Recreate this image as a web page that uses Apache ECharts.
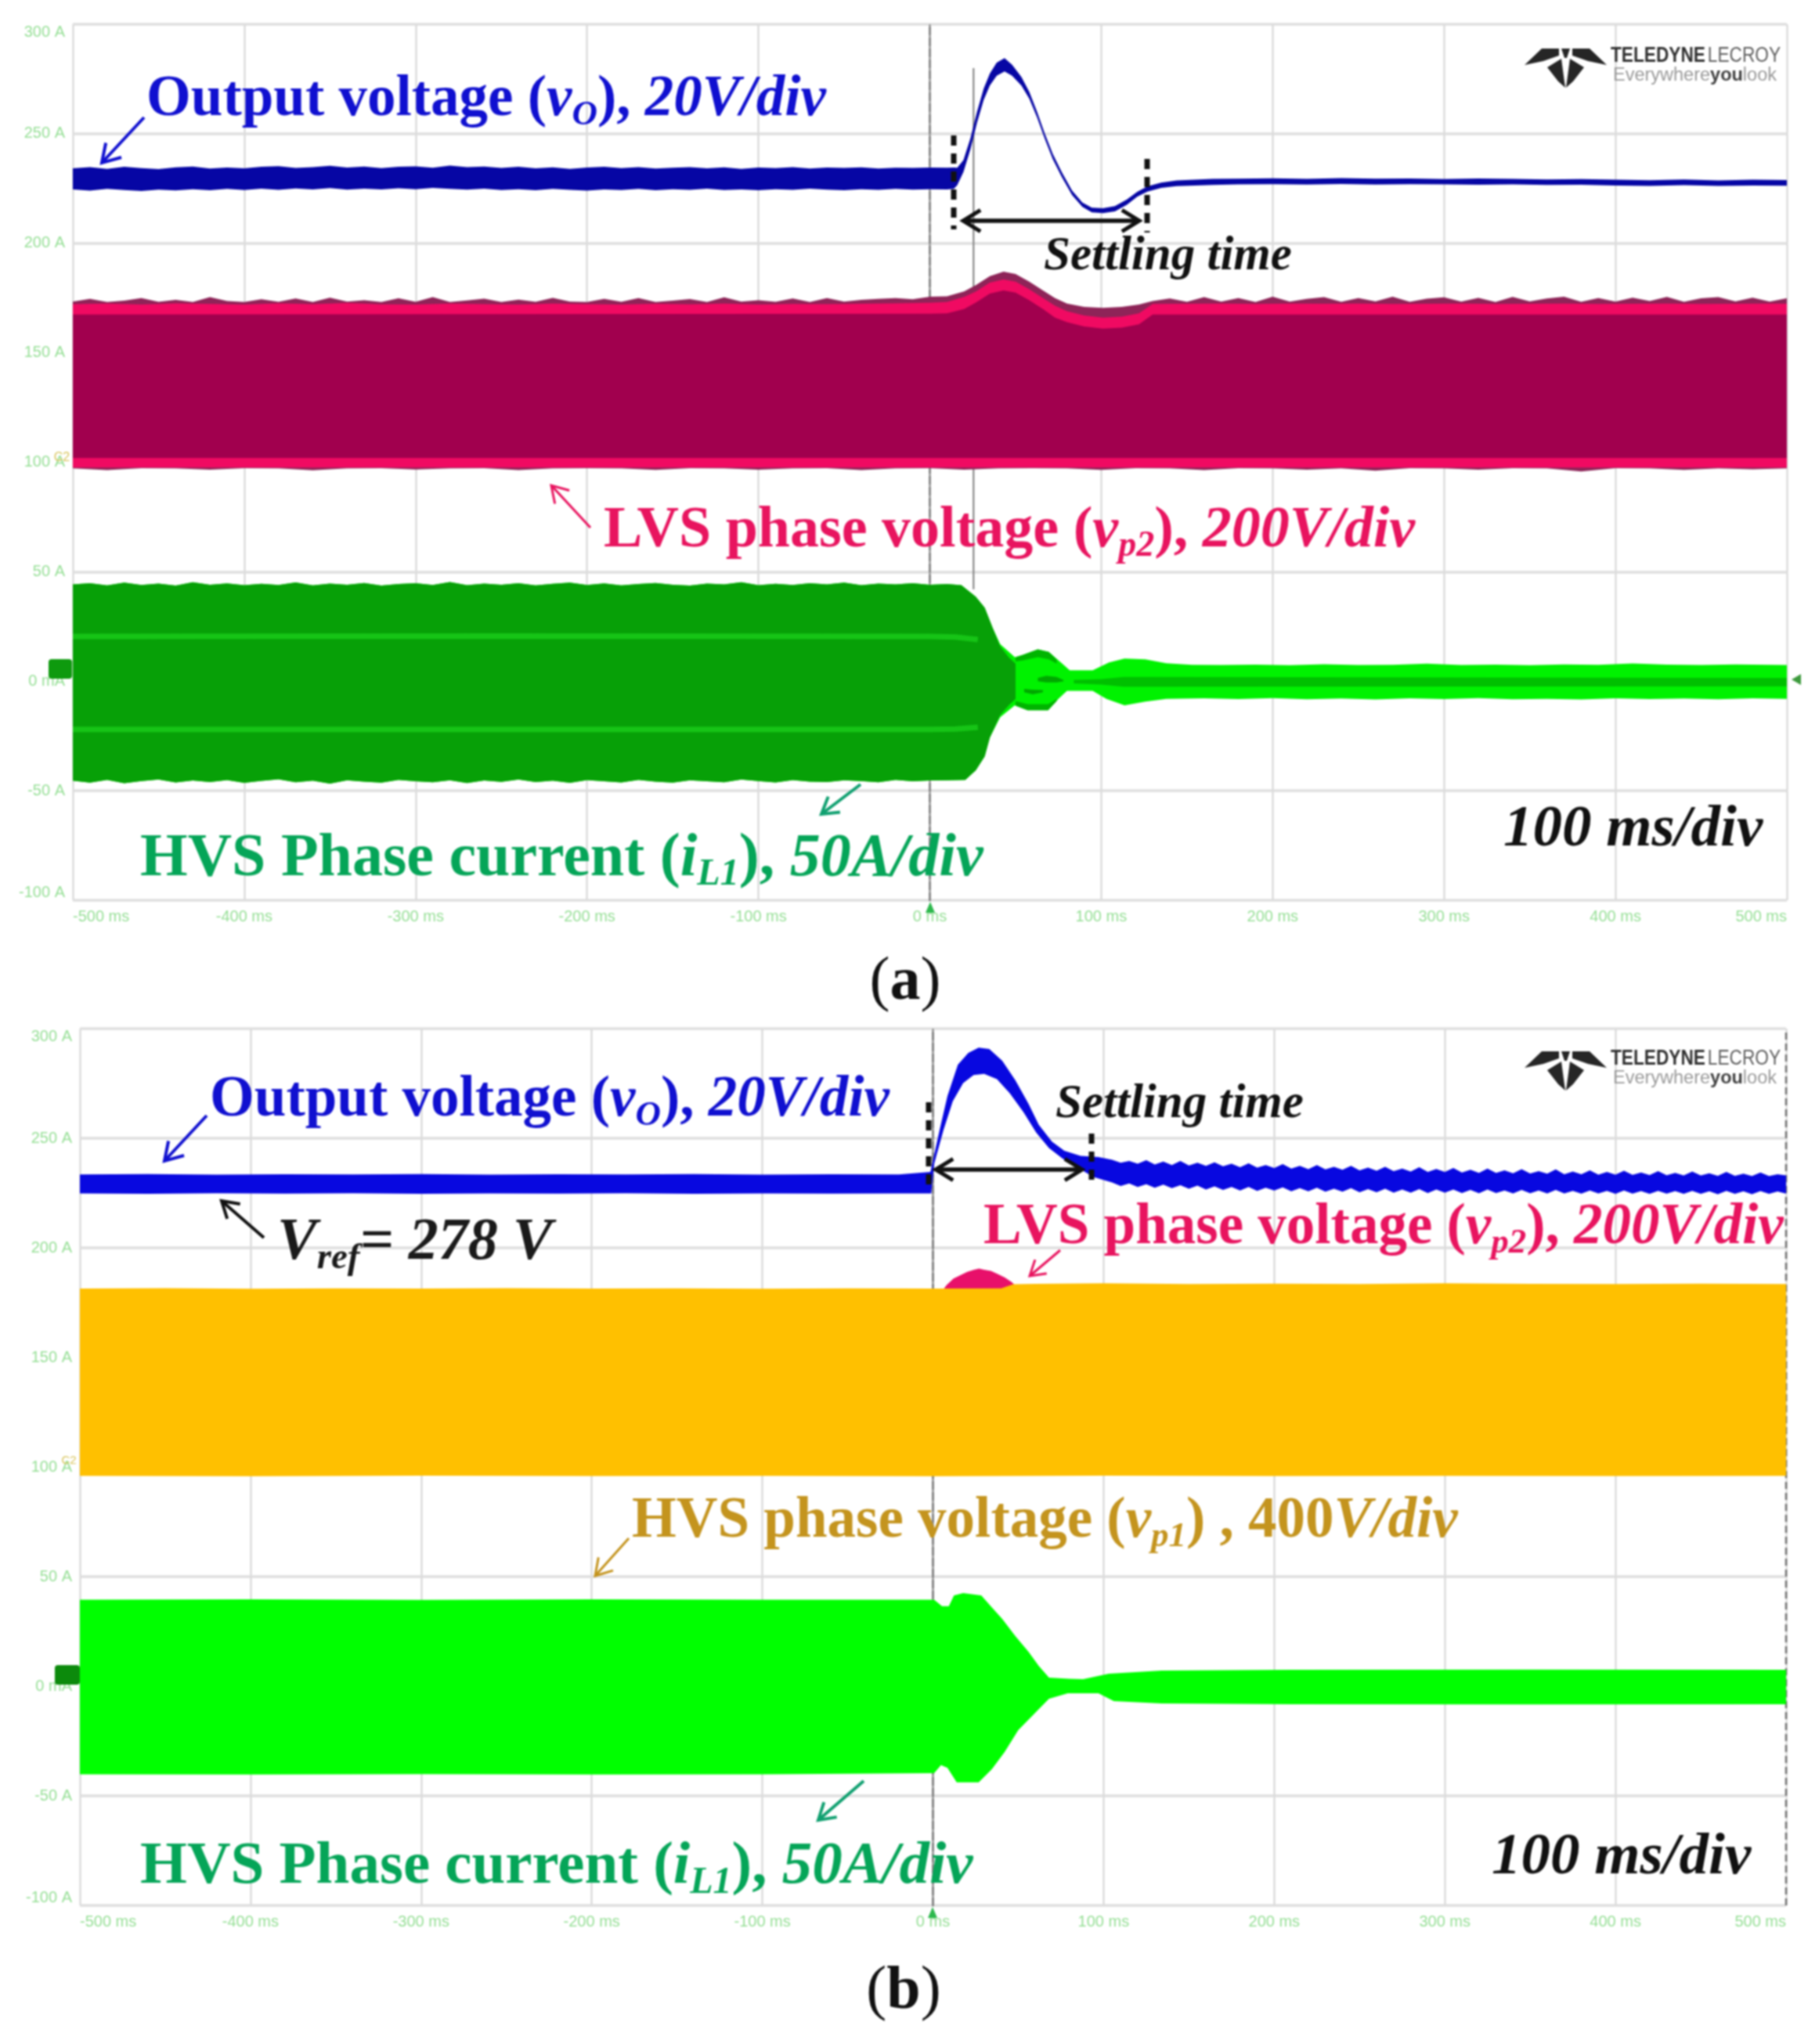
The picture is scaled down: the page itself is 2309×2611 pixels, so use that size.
<!DOCTYPE html>
<html><head><meta charset="utf-8">
<style>html,body{margin:0;padding:0;background:#fff}#c{width:2309px;height:2611px;filter:blur(1.1px)}</style>
<script src="https://cdn.jsdelivr.net/npm/echarts@6/dist/echarts.min.js"></script>
</head><body><div id="c"></div>
<script>
// ---------- axes ----------
const xTickValues = [-500,-400,-300,-200,-100,0,100,200,300,400,500];
const xTickLabels = ['-500 ms','-400 ms','-300 ms','-200 ms','-100 ms','0 ms','100 ms','200 ms','300 ms','400 ms','500 ms'];
const yTickValues = [-100,-50,0,50,100,150,200,250,300];
const yTickLabels = ['-100 A','-50 A','0 mA','50 A','100 A','150 A','200 A','250 A','300 A'];

// ---------- shared time base of the steady part ----------
const tSteady = [-500,-490,-480,-470,-460,-450,-440,-430,-420,-410,-400,-390,-380,-370,-360,-350,-340,-330,-320,-310,-300,-290,-280,-270,-260,-250,-240,-230,-220,-210,-200,-190,-180,-170,-160,-150,-140,-130,-120,-110,-100,-90,-80,-70,-60,-50,-40,-30,-20,-10,0,10];

// ---------- panel (a): output voltage ----------
const tVoA = tSteady.concat([14,16,19.6,23.7,27.5,31.4,35,39,43.6,48,53.4,58,62.6,67,71.7,77,83,89,94.5,101,108,115,121,127,135,144,165,
  180,200,220,240,260,280,300,320,340,360,380,400,420,440,460,480,500]);
const voAHi = [234.2,234.8,234.0,234.9,234.3,233.9,234.7,235.0,234.1,234.6,234.2,234.9,235.2,234.4,234.8,235.4,234.6,235.0,234.3,234.9,235.1,234.5,235.5,234.8,235.0,234.4,234.9,234.2,234.7,234.0,234.6,234.9,234.3,234.8,234.1,234.5,234.8,234.2,234.7,234.0,234.6,234.3,234.8,234.1,234.6,234.4,234.7,234.1,234.5,234.4,234.6,234.5,
  234.6,234.5,238,248,260,270.6,277.5,282.5,284.5,281.5,276,269.2,260,250.2,240.8,232.4,224,218.6,216.3,216,217,220,223.5,226,227.7,228.7,229.4,
  229.5,229.7,229.4,229.8,229.5,229.6,229.3,229.6,229.4,229.1,229.3,229.0,228.8,229.1,228.7,229.0,228.9];
const voALo = [224.6,224.0,224.8,224.3,223.9,224.5,224.1,224.7,224.2,224.8,224.3,224.9,224.4,225.0,224.6,225.2,224.5,224.9,224.6,225.1,224.7,225.3,224.8,224.5,224.9,224.3,224.7,224.2,224.8,224.4,224.0,224.6,224.3,224.8,224.2,224.7,224.4,224.9,224.3,224.6,224.2,224.7,224.4,224.9,224.5,224.2,224.7,224.4,224.8,224.5,224.7,224.6,
  224.8,226.5,232.5,243,255,265.4,272,276.5,278.5,276.5,272,266,257.4,247.8,238.4,230.2,222,216.6,214.1,213.8,214.6,217.6,221.3,223.6,225.3,226.1,226.6,
  226.9,227.0,226.8,227.1,226.8,227.0,226.9,226.7,226.9,226.6,226.7,226.4,226.2,226.5,226.2,226.4,226.3];
const cursorT = [25.5,25.5];
const cursorV = [280,42];

// ---------- panel (a): LVS phase voltage ----------
const tVp2A = [-500,-480,-460,-440,-420,-400,-380,-360,-340,-320,-300,-280,-260,-240,-220,-200,-180,-160,-140,-120,-100,-80,-60,
  -40,-20,0,10,20,27,35,43,50,58,66,73,80,90,101,112,122,130,
  150,170,190,210,230,250,270,290,310,330,350,370,390,410,430,450,470,490,500];
const tVp2AOuterHi = tSteady.concat([20,27,35,43,50,58,66,73,80,90,101,112,122,130,
  140,150,160,170,180,190,200,210,220,230,240,250,260,270,280,290,300,310,320,330,340,350,360,370,380,390,400,410,420,430,440,450,460,470,480,490,500]);
const vp2AOuterHi = [173.4,174.6,173.2,173.8,175.0,173.3,174.2,173.2,175.4,173.6,173.2,174.4,173.3,174.8,173.2,175.2,173.4,174.0,173.2,174.9,173.3,175.4,173.2,173.9,174.7,173.2,174.3,173.3,175.1,173.4,173.2,174.6,173.3,175.0,173.2,173.8,174.5,173.2,175.3,173.4,174.0,173.3,174.8,173.2,175.0,173.4,174.2,174.6,175.0,174.4,175.6,175.8,
  178,181,185,187,186,182.5,178.5,175,172.5,171,170.5,171,172,173.6,
  174.8,173.3,175.4,173.4,175.0,173.2,175.6,173.4,174.6,175.4,173.3,175.0,173.5,175.6,173.3,174.7,175.3,173.4,175.1,173.2,175.5,173.5,174.8,175.6,173.3,175.0,173.4,175.2,173.6,175.5,173.3,174.9,175.4,173.5,175.2,173.4,174.9];
const vp2ABrightHi = [172.2,172.5,172.0,172.6,172.3,172.0,172.6,172.2,172.7,172.1,172.0,172.5,172.2,172.0,172.5,172.2,172.0,172.4,172.1,172.5,172.0,172.3,172.2,
  172.4,172.6,172.8,173.2,175.5,178,182,183.5,182.5,179,175,171.5,169,167,166,166.5,168,172.3,
  172.4,172.5,172.3,172.5,172.4,172.5,172.3,172.4,172.5,172.3,172.4,172.5,172.3,172.4,172.5,172.3,172.4,172.5,172.4];
const tVp2AOuterLo = [-500,-480,-460,-440,-420,-400,-380,-360,-340,-320,-300,-280,-260,-240,-220,-200,-180,-160,-140,-120,-100,-80,-60,-40,-20,0,20,40,60,80,100,120,140,160,180,200,220,240,260,280,300,320,340,360,380,400,420,440,460,480,500];
const vp2AOuterLo = [97.2,96.4,97.3,97.2,96.6,97.3,97.2,96.3,97.2,97.3,96.7,97.2,97.3,96.4,97.2,97.3,97.2,96.5,97.3,97.2,96.6,97.2,97.3,96.4,97.2,97.3,96.6,97.2,97.3,97.2,96.5,97.3,97.2,96.4,97.3,97.2,96.6,97.2,96.2,97.3,97.2,96.6,97.3,97.2,95.8,97.3,97.2,96.5,97.2,96.8,97.2];
const tVp2AInnerHi = [-500,0,10,20,27,35,43,50,58,66,73,80,90,101,112,122,130,500];
const vp2AInnerHi = [167.5,167.8,168,170,173,177,178.5,177.5,174,170,166,164,162,161,161.5,163,167.5,167.5];
const tVp2AEnds = [-500,500];
const vp2ABrightLo = [97.6,97.6];
const vp2AInnerLo = [102,102];

// ---------- panel (a): HVS phase current ----------
const iASteadyHi = [44.2,44.8,43.8,45.0,44.0,44.6,43.7,45.2,44.1,44.7,43.9,44.5,44.0,45.1,43.8,44.6,44.1,44.9,43.7,44.4,44.8,44.0,45.3,43.9,44.6,44.1,44.8,43.8,44.5,45.0,44.0,44.7,43.8,44.4,44.9,44.1,43.7,44.6,44.2,45.2,43.9,44.5,44.0,44.8,44.2,45.0,43.9,44.6,44.2,44.8,44.1,44.4];
const iASteadyLo = [-45.4,-46.3,-45.0,-46.6,-45.6,-44.9,-46.2,-45.3,-46.0,-45.1,-46.4,-45.5,-44.8,-46.1,-45.4,-46.7,-45.2,-45.8,-46.3,-45.0,-45.7,-46.1,-45.2,-46.5,-45.3,-45.9,-44.9,-46.0,-45.4,-46.4,-45.1,-45.7,-46.2,-45.0,-45.8,-46.3,-45.2,-45.7,-46.1,-44.9,-45.6,-46.2,-45.1,-45.8,-46.0,-45.2,-45.6,-46.1,-45.0,-45.7,-45.3,-45.2];
const tIAHi = tSteady.concat([18.4,26.8,32,36.7,41,49.6,54,63,69.4,77,81.6,95,104.5,113.6,125.7,138,153,170,190,210,230,250,270,290,310,330,350,370,390,410,430,450,470,490,500]);
const iAHi = iASteadyHi.concat([43.9,38.6,33.6,24.3,17,11,12,14.6,13.4,8.2,5,5,8.6,10.4,10,8.2,7.5,7.4,7.6,7.3,7.8,7.4,7.5,8.0,7.4,7.6,7.3,7.7,7.5,8.1,7.6,7.4,7.7,7.5,7.4]);
const tIALo = tSteady.concat([20.7,26.8,32,35,41,49.6,57,69,75,80,95,103,113.6,125.7,138,160,180,200,220,240,260,280,300,320,340,360,380,400,420,440,460,480,500]);
const iALo = iASteadyLo.concat([-45,-40.7,-34.3,-25.7,-16.4,-11,-13.2,-13.2,-8,-4.4,-4.4,-8,-11,-9.3,-8,-7.8,-8.1,-7.7,-8.2,-7.9,-8.3,-7.8,-8.1,-7.7,-8.2,-8.0,-8.3,-7.8,-8.1,-7.9,-8.2,-7.8,-8.0]);
const tIADarkHi = tSteady.concat([18.4,26.8,32,36.7,41,46,50]);
const iADarkHi = iASteadyHi.concat([43.9,38.6,33.6,24.3,16,11,8]);
const tIADarkLo = tSteady.concat([20.7,26.8,32,35,41,46,50]);
const iADarkLo = iASteadyLo.concat([-45,-40.7,-34.3,-25.7,-15.5,-11,-8]);
const tIARimTop = [50,54,63,69.4,74];
const iARimTopHi = [11,12,14.6,13.4,10];
const iARimTopLo = [9,9.5,11,10,8];
const tIARimBot = [50,57,69,74];
const iARimBotHi = [-9,-10.5,-10.5,-8];
const iARimBotLo = [-11.2,-13.2,-13.2,-9];
const tIACore = [84,100,113,130,500];
const iACoreHi = [0.6,1,2,2,1.5];
const iACoreLo = [-1,-1.5,-2.5,-2.5,-2.3];
const tIAPatch1 = [63,68,74,78];
const iAPatch1Hi = [1.5,2.5,2,0.5];
const iAPatch1Lo = [0,-0.5,-0.5,0];
const tIAPatch2 = [55,60,66];
const iAPatch2Hi = [-3.5,-3.8,-4];
const iAPatch2Lo = [-5,-6,-5];
const tIAStripe = [-500,-250,0,15,28];
const iAStripeTop = [20.5,20.6,20.5,20.2,19];
const iAStripeBot = [-22,-22,-22,-21.8,-21];

// ---------- panel (b): output voltage ----------
const tVoBJag = [105,110,115,120,125,130,135,140,145,150,155,160,165,170,175,180,185,190,195,200,205,210,215,220,225,230,235,240,245,250,255,260,265,270,275,280,285,290,295,300,305,310,315,320,325,330,335,340,345,350,355,360,365,370,375,380,385,390,395,400,405,410,415,420,425,430,435,440,445,450,455,460,465,470,475,480,485,490,495,500];
const tVoBHi = [-500,-460,-420,-380,-340,-300,-260,-220,-180,-140,-100,-60,-20,
  -1.5,3.9,8.5,14.6,20.7,26.8,33,40.6,48.3,56,62,69.7,77,86.5,97].concat(tVoBJag);
const voBHi = [233.5,233.7,233.4,233.6,233.5,233.7,233.4,233.6,233.5,233.7,233.4,233.6,233.5,
  234.6,253.8,269.3,283.6,288.9,291.3,290.7,285.4,276.4,265.7,256.2,248.5,244.3,242,241.4,
  240.2,238.8,239.6,238.4,240.0,238.0,239.4,237.8,239.6,237.6,238.8,237.4,239.0,237.2,238.4,236.8,238.6,236.6,237.8,236.4,238.2,236.2,237.4,235.9,237.8,235.8,237.0,235.6,237.4,235.4,236.6,235.2,237.0,235.0,236.2,234.8,236.8,234.6,236.0,234.6,236.4,234.4,235.6,234.2,236.2,234.2,235.4,234.0,235.9,233.9,235.0,233.8,235.8,233.6,234.8,233.6,235.4,233.4,234.6,233.4,235.2,233.3,234.4,233.2,235.0,233.1,234.2,233.0,234.8,233.0,234.0,232.9,234.6,232.9,233.8,232.8,234.4,232.8,233.6,233.0];
const tVoBLo = [-500,-460,-420,-380,-340,-300,-260,-220,-180,-140,-100,-60,-20,
  -1,0.7,6.2,11.6,17.7,23.8,30,37.5,45,53,60.5,68,76,85,94].concat(tVoBJag);
const voBLo = [224.8,224.6,224.9,224.7,224.9,224.6,224.8,224.7,224.9,224.6,224.8,224.7,224.8,
  224.8,238.3,253.8,266.9,275.2,278.8,279.4,277,270.5,262,252.6,245.5,240.7,236.5,232.3,
  229.8,228.2,229.4,227.8,229.0,227.4,228.8,227.2,228.6,227.0,228.4,226.6,228.0,226.4,227.8,226.2,227.8,226.0,227.4,226.2,227.6,225.8,227.2,225.8,227.4,225.6,227.0,225.6,227.2,225.4,226.8,225.4,227.0,225.2,226.6,225.2,226.8,225.0,226.6,225.2,226.6,225.0,226.4,224.9,226.6,225.0,226.2,224.8,226.4,224.9,226.2,224.8,226.4,224.8,226.0,224.7,226.2,224.8,226.0,224.6,226.2,224.7,225.9,224.6,226.0,224.7,225.9,224.6,226.0,224.6,225.8,224.5,226.0,224.6,225.8,224.5,225.9,224.6,225.7,224.7];

// ---------- panel (b): LVS phase voltage (mostly hidden behind vp1) ----------
const tVp2BHi = [-500,6,8,12,16,20,24,27,30,34,38,42,46,48,500];
const vp2BHi = [180,181,183,186,187.5,189,190,190.5,190,189.5,188,186.5,184.5,183,182];
const vp2BLo = [100,100];

// ---------- panel (b): HVS phase voltage ----------
const tVp1BHi = [-500,-450,-400,-350,-300,-250,-200,-150,-100,-50,0,40,47,60,100,150,200,250,300,350,400,450,500];
const vp1BHi = [181.4,181.6,181.3,181.5,181.4,181.6,181.4,181.5,181.3,181.5,181.4,181.5,183.4,183.6,183.8,183.5,183.7,183.5,183.8,183.6,183.5,183.7,183.5];
const tVp1BLo = [-500,-400,-300,-200,-100,0,100,200,300,400,500];
const vp1BLo = [96.0,95.8,96.1,95.9,96.0,95.8,96.1,95.9,96.0,95.9,96.0];

// ---------- panel (b): HVS phase current ----------
const tIBHi = [-500,-400,-300,-200,-100,0.7,5.3,9.3,12.3,17.7,28.3,34.5,40.6,48.3,56,62,68,80,88,103,134,210,350,500];
const iBHi = [39.5,39.6,39.4,39.6,39.5,39.5,36.5,36.5,41.4,42.5,41.4,36,30.7,22.9,15.7,9.3,3.9,3.4,3.2,5.7,7.1,7.5,7.6,7.5];
const tIBLo = [-500,-400,-300,-200,-100,0.7,4.7,8.5,13.9,26.8,34.5,42,50,59,68,79,97,106,134,210,350,500];
const iBLo = [-40.2,-40.3,-40.1,-40.3,-40.2,-39.6,-36,-37.2,-43.8,-43.8,-37.9,-30,-20,-12.9,-5.7,-3.2,-3.2,-6.8,-7.9,-8.2,-8.3,-8.2];

const zeroT = [0,0];
const zeroV = [-100,300];
const edgeT = [500,500];

// ---------- helpers ----------
const pairs = (t,v) => t.map((x,i)=>[x,v[i]]);
function band(name,p,tHi,hi,tLo,lo,color,z){
  const pts = pairs(tHi,hi).concat(pairs(tLo,lo).reverse());
  return {type:'custom',name,xAxisIndex:p,yAxisIndex:p,silent:true,z,data:pts,clip:true,encode:{x:0,y:1},
    renderItem(params,api){
      if(params.dataIndex!==0) return null;
      return {type:'polygon',shape:{points:pts.map(d=>api.coord(d))},style:{fill:color,stroke:null}};
    }};
}
function trace(name,p,t,v,color,width,z,type){
  return {type:'line',name,xAxisIndex:p,yAxisIndex:p,data:pairs(t,v),symbol:'none',silent:true,z,
    lineStyle:{color,width,type:type||'solid'}};
}
const lookup = (vals,labs) => v => { const i = vals.indexOf(v); return i<0?'':labs[i]; };
const AX = '#96DF96', SANS='"Liberation Sans",sans-serif', SERIF='"Liberation Serif",serif';
function xAxisOf(gi){return {type:'value',gridIndex:gi,min:-500,max:500,interval:100,
  axisLine:{show:false},axisTick:{show:false},
  splitLine:{show:true,lineStyle:{color:'#DCDCDC',width:2.5}},
  axisLabel:{margin:11,fontFamily:SANS,fontSize:20,color:AX,alignMinLabel:'left',alignMaxLabel:'right',hideOverlap:false,
    formatter:lookup(xTickValues,xTickLabels)}};}
function yAxisOf(gi){return {type:'value',gridIndex:gi,min:-100,max:300,interval:50,
  axisLine:{show:true,lineStyle:{color:'#6A6A6A',width:2.5,type:[9,5]}},axisTick:{show:false},
  splitLine:{show:true,lineStyle:{color:'#DFDFDF',width:3.5}},
  axisLabel:{margin:10,fontFamily:SANS,fontSize:20,color:AX,verticalAlignMaxLabel:'top',verticalAlignMinLabel:'bottom',hideOverlap:false,
    formatter:lookup(yTickValues,yTickLabels)}};}

// ---------- annotation graphics ----------
const G = [];
function richStyles(fs,color){
  const sf=Math.round(fs*0.62);
  return {
    b:{fontFamily:SERIF,fontWeight:'bold',fontSize:fs,lineHeight:fs,fill:color,verticalAlign:'top'},
    i:{fontFamily:SERIF,fontWeight:'bold',fontStyle:'italic',fontSize:fs,lineHeight:fs,fill:color,verticalAlign:'top'},
    s:{fontFamily:SERIF,fontWeight:'bold',fontStyle:'italic',fontSize:sf,lineHeight:sf,padding:[Math.round(fs*0.45),0,0,0],fill:color,verticalAlign:'top'}
  };
}
function label(x,base,text,fs,color){
  G.push({type:'text',x,y:base-fs*0.73,z:100,silent:true,style:{text,rich:richStyles(fs,color),fill:color,textAlign:'left',textVerticalAlign:'top',font:'bold '+fs+'px '+SERIF}});
}
function seg(x1,y1,x2,y2,color,w,dash){
  G.push({type:'line',z:90,silent:true,shape:{x1,y1,x2,y2},style:{stroke:color,lineWidth:w,lineDash:dash||null}});
}
function arrow(x1,y1,x2,y2,color,w,h){
  seg(x1,y1,x2,y2,color,w);
  const a=Math.atan2(y1-y2,x1-x2),d=0.55;
  G.push({type:'polyline',z:90,silent:true,shape:{points:[[x2+h*Math.cos(a-d),y2+h*Math.sin(a-d)],[x2,y2],[x2+h*Math.cos(a+d),y2+h*Math.sin(a+d)]]},style:{stroke:color,lineWidth:w,fill:null}});
}
function plainText(x,y,text,font,fill,align,z){
  G.push({type:'text',x,y,z:z||95,silent:true,style:{text,font,fill,textAlign:align||'left',textVerticalAlign:'middle'}});
}
function logo(oy){
  const ox=1947, c='#262626';
  const polys=[[[0,21],[22,0],[44,0],[44,9],[24,16]],[[105,21],[83,0],[61,0],[61,9],[81,16]],
    [[29,24],[47,13],[52,50],[43,42]],[[76,24],[58,13],[53,50],[62,42]],[[47,0],[58,0],[54,12],[51,12]]];
  polys.forEach(p=>G.push({type:'polygon',z:95,silent:true,shape:{points:p.map(q=>[ox+q[0],oy+q[1]])},style:{fill:c}}));
  G.push({type:'text',x:2057,y:oy+10,scaleX:0.84,z:95,silent:true,style:{text:'{a|TELEDYNE} {b|LECROY}',textVerticalAlign:'middle',
    rich:{a:{fontFamily:'"Liberation Sans"',fontWeight:'bold',fontSize:27,fill:'#303030'},b:{fontFamily:'"Liberation Sans"',fontSize:27,fill:'#606060'}}}});
  G.push({type:'text',x:2060,y:oy+35,z:95,silent:true,style:{text:'{a|Everywhere}{b|you}{a|look}',textVerticalAlign:'middle',
    rich:{a:{fontFamily:'"Liberation Sans"',fontSize:23.5,fill:'#9A9A9A'},b:{fontFamily:'"Liberation Sans"',fontWeight:'bold',fontSize:23.5,fill:'#404040'}}}});
}
const BLUE='#1010D0',PINK='#E8145F',GREEN='#05A558',BROWN='#C4941E',BLK='#111';
const DASH=[13,10];

// (a)
label(187,145,'{b|Output voltage (}{i|v}{s|O}{b|), }{i|20V/div}',73,BLUE);
arrow(184,150,130,208,BLUE,4,26);
label(771,696,'{b|LVS phase voltage (}{i|v}{s|p2}{b|), }{i|200V/div}',74,PINK);
arrow(754,674,704,620,PINK,3,24);
label(179,1116,'{b|HVS Phase current (}{i|i}{s|L1}{b|), }{i|50A/div}',78,GREEN);
arrow(1099,1002,1049,1040,'#10A070',4,24);
label(1920,1078,'{i|100 ms/div}',75,BLK);
label(1333,342,'{i|Settling time}',61,BLK);
seg(1218,173,1218,293,BLK,7,DASH); seg(1465,203,1465,297,BLK,7,DASH);
arrow(1455,282,1230,282,BLK,5,26); arrow(1230,282,1455,282,BLK,5,26);
G.push({type:'text',x:1156,y:1256,z:95,silent:true,style:{text:'{p|(}{q|a}{p|)}',textAlign:'center',textVerticalAlign:'middle',rich:{p:{fontFamily:SERIF,fontSize:78,fill:BLK},q:{fontFamily:SERIF,fontWeight:'bold',fontSize:78,fill:BLK}}}});
logo(62);
G.push({type:'rect',z:95,silent:true,shape:{x:62,y:842,width:30,height:25,r:4},style:{fill:'#0E9A0E'}});
plainText(79,585,'C2','16px '+SANS,'#D8C45A','center');
G.push({type:'polygon',z:95,silent:true,shape:{points:[[2288,868],[2300,861],[2300,875]]},style:{fill:'#3C9A3C'}});
G.push({type:'polygon',z:95,silent:true,shape:{points:[[1188,1152],[1182,1166],[1194,1166]]},style:{fill:'#2DB84D'}});

// (b)
label(268,1423,'{b|Output voltage (}{i|v}{s|O}{b|), }{i|20V/div}',73,BLUE);
arrow(264,1425,210,1483,BLUE,4,26);
label(354,1606,'{i|V}{s|ref}{i|= 278 V}',76,'#1A1A1A');
arrow(337,1581,283,1534,BLK,4,24);
label(1256,1586,'{b|LVS phase voltage (}{i|v}{s|p2}{b|), }{i|200V/div}',73,PINK);
arrow(1354,1597,1315,1630,PINK,3,22);
label(807,1961,'{b|HVS phase voltage (}{i|v}{s|p1}{b|) , 400}{i|V/div}',73,BROWN);
arrow(803,1965,760,2013,BROWN,3,24);
label(179,2403,'{b|HVS Phase current (}{i|i}{s|L1}{b|), }{i|50A/div}',77,GREEN);
arrow(1103,2275,1045,2325,'#10A070',4,24);
label(1905,2391,'{i|100 ms/div}',75,BLK);
label(1348,1425,'{i|Settling time}',61,BLK);
seg(1186,1408,1186,1523,BLK,7,DASH); seg(1394,1448,1394,1517,BLK,7,DASH);
arrow(1382,1494,1195,1494,BLK,5,26); arrow(1195,1494,1382,1494,BLK,5,26);
G.push({type:'text',x:1154,y:2545,z:95,silent:true,style:{text:'{p|(}{q|b}{p|)}',textAlign:'center',textVerticalAlign:'middle',rich:{p:{fontFamily:SERIF,fontSize:78,fill:BLK},q:{fontFamily:SERIF,fontWeight:'bold',fontSize:78,fill:BLK}}}});
logo(1343);
G.push({type:'rect',z:95,silent:true,shape:{x:70,y:2127,width:32,height:25,r:4},style:{fill:'#0C8A0C'}});
plainText(88,1866,'C2','15px '+SANS,'#D8C45A','center');
G.push({type:'polygon',z:95,silent:true,shape:{points:[[1191,2436],[1185,2450],[1197,2450]]},style:{fill:'#2DB84D'}});

const option = {
  animation:false,backgroundColor:'#fff',
  grid:[{left:93,top:31,width:2189,height:1119},{left:102,top:1314,width:2179,height:1120}],
  xAxis:[xAxisOf(0),xAxisOf(1)],
  yAxis:[yAxisOf(0),yAxisOf(1)],
  graphic:G,
  series:[
    trace('zero a',0,zeroT,zeroV,'#8A8A8A',2,3),
    trace('zero b',1,zeroT,zeroV,'#858585',2,3),
    trace('cursor',0,cursorT,cursorV,'#7C7C7C',2,3),
    trace('right edge b',1,edgeT,zeroV,'#707070',2.5,3,[9,5]),
    band('vO a',0,tVoA,voAHi,tVoA,voALo,'#0606A4',5),
    band('vp2 a outer',0,tVp2AOuterHi,vp2AOuterHi,tVp2AOuterLo,vp2AOuterLo,'#8E2458',5),
    band('vp2 a bright',0,tVp2A,vp2ABrightHi,tVp2AEnds,vp2ABrightLo,'#F00A62',6),
    band('vp2 a inner',0,tVp2AInnerHi,vp2AInnerHi,tVp2AEnds,vp2AInnerLo,'#A1004E',7),
    band('iL1 a',0,tIAHi,iAHi,tIALo,iALo,'#00F200',5),
    band('iL1 a dark',0,tIADarkHi,iADarkHi,tIADarkLo,iADarkLo,'#07A007',6),
    band('iL1 a rim top',0,tIARimTop,iARimTopHi,tIARimTop,iARimTopLo,'#00B400',6),
    band('iL1 a rim bottom',0,tIARimBot,iARimBotHi,tIARimBot,iARimBotLo,'#00B400',6),
    band('iL1 a core',0,tIACore,iACoreHi,tIACore,iACoreLo,'#00C000',6),
    band('iL1 a patch 1',0,tIAPatch1,iAPatch1Hi,tIAPatch1,iAPatch1Lo,'#00A800',6),
    band('iL1 a patch 2',0,tIAPatch2,iAPatch2Hi,tIAPatch2,iAPatch2Lo,'#00A800',6),
    trace('iL1 a stripe top',0,tIAStripe,iAStripeTop,'#16C416',7,7),
    trace('iL1 a stripe bottom',0,tIAStripe,iAStripeBot,'#16C416',7,7),
    band('vO b',1,tVoBHi,voBHi,tVoBLo,voBLo,'#0808E0',5),
    band('vp2 b',1,tVp2BHi,vp2BHi,tVp2AEnds,vp2BLo,'#E8106A',5),
    band('vp1 b',1,tVp1BHi,vp1BHi,tVp1BLo,vp1BLo,'#FFC000',6),
    band('iL1 b',1,tIBHi,iBHi,tIBLo,iBLo,'#00FF00',5)
  ]
};
echarts.init(document.getElementById('c'),null,{renderer:'canvas',width:2309,height:2611}).setOption(option);
</script></body></html>
